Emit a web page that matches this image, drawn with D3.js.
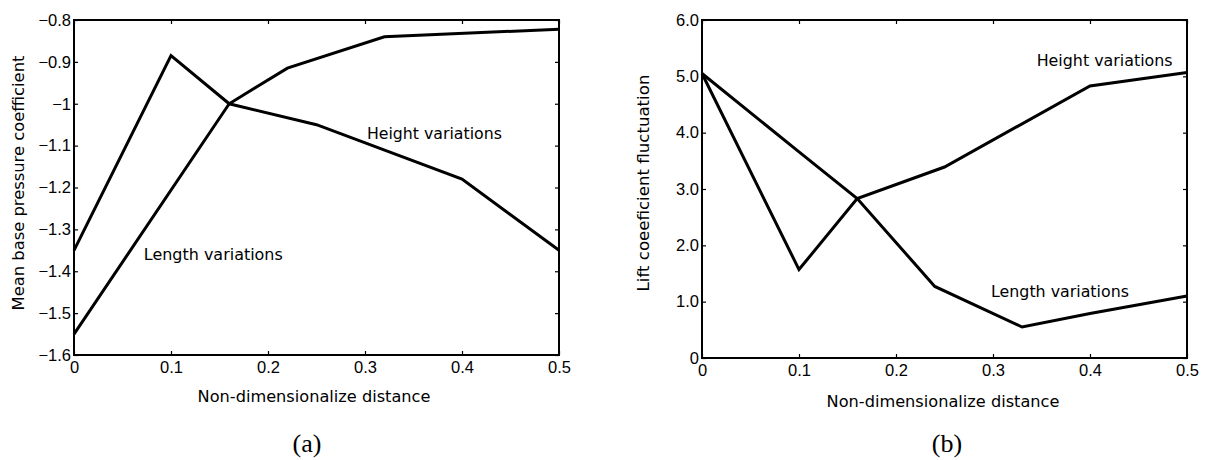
<!DOCTYPE html>
<html>
<head>
<meta charset="utf-8">
<script src="https://cdn.jsdelivr.net/npm/d3@7"></script>
<style>
  body { margin: 0; background: #fff; }
  text { font-family: "DejaVu Sans", sans-serif; fill: #000; }
  .tick text { font-family: "Liberation Sans", Arial, sans-serif; }
  .cap { font-family: "Liberation Serif", "Times New Roman", serif; }
</style>
</head>
<body>
<svg id="chart" width="1208" height="460"></svg>
<script>
// panel (a): mean base pressure coefficient
const xTicks = [0, 0.1, 0.2, 0.3, 0.4, 0.5];
const xTickLabels = ["0", "0.1", "0.2", "0.3", "0.4", "0.5"];

const cpTicks = [-1.6, -1.5, -1.4, -1.3, -1.2, -1.1, -1, -0.9, -0.8];
const cpTickLabels = ["\u22121.6", "\u22121.5", "\u22121.4", "\u22121.3", "\u22121.2", "\u22121.1", "\u22121", "\u22120.9", "\u22120.8"];
const cpHeightX = [0, 0.1, 0.16, 0.25, 0.4, 0.5];
const cpHeightY = [-1.35, -0.885, -1.0, -1.05, -1.18, -1.35];
const cpLengthX = [0, 0.16, 0.22, 0.32, 0.5];
const cpLengthY = [-1.55, -1.0, -0.915, -0.84, -0.822];

// panel (b): lift coefficient fluctuation
const clTicks = [0, 1, 2, 3, 4, 5, 6];
const clTickLabels = ["0", "1.0", "2.0", "3.0", "4.0", "5.0", "6.0"];
const clHeightX = [0, 0.1, 0.16, 0.25, 0.4, 0.5];
const clHeightY = [5.05, 1.57, 2.83, 3.39, 4.83, 5.07];
const clLengthX = [0, 0.1, 0.16, 0.24, 0.33, 0.4, 0.5];
const clLengthY = [5.05, 3.66, 2.83, 1.27, 0.55, 0.79, 1.1];

const svg = d3.select("#chart");

// shrink/grow font so the text spans roughly the width seen in the original
function fit(sel, width, base) {
  sel.attr("font-size", base);
  const w = sel.node().getComputedTextLength();
  if (w > 0) sel.attr("font-size", (base * width / w).toFixed(2));
  return sel;
}

function panel(opts) {
  const x = d3.scaleLinear().domain([0, 0.5]).range([opts.left, opts.right]);
  const y = d3.scaleLinear().domain(opts.yDomain).range([opts.bottom, opts.top]);
  const g = svg.append("g");
  const tickLen = 4;

  // ticks inward on all four sides
  g.append("g")
    .attr("transform", `translate(0,${opts.bottom})`)
    .call(d3.axisBottom(x).tickValues(xTicks).tickSize(-tickLen).tickPadding(6)
      .tickFormat((d, i) => xTickLabels[i]))
    .call(a => a.select(".domain").remove())
    .call(a => a.selectAll("text").attr("font-size", 16.5).attr("dy", "0.72em"));
  g.append("g")
    .attr("transform", `translate(0,${opts.top})`)
    .call(d3.axisTop(x).tickValues(xTicks).tickSize(-tickLen).tickFormat(""))
    .call(a => a.select(".domain").remove());
  g.append("g")
    .attr("transform", `translate(${opts.left},0)`)
    .call(d3.axisLeft(y).tickValues(opts.yTicks).tickSize(-tickLen).tickPadding(3)
      .tickFormat((d, i) => opts.yLabels[i]))
    .call(a => a.select(".domain").remove())
    .call(a => a.selectAll("text").attr("font-size", 16.5));
  g.append("g")
    .attr("transform", `translate(${opts.right},0)`)
    .call(d3.axisRight(y).tickValues(opts.yTicks).tickSize(-tickLen).tickFormat(""))
    .call(a => a.select(".domain").remove());
  g.selectAll(".tick line").attr("stroke", "#000").attr("stroke-width", 1.2);

  g.append("rect")
    .attr("x", opts.left).attr("y", opts.top)
    .attr("width", opts.right - opts.left).attr("height", opts.bottom - opts.top)
    .attr("fill", "none").attr("stroke", "#000").attr("stroke-width", 2);

  const line = d3.line().x(d => x(d[0])).y(d => y(d[1]));
  opts.series.forEach(s => {
    g.append("path")
      .datum(d3.zip(s.x, s.y))
      .attr("d", line)
      .attr("fill", "none")
      .attr("stroke", "#000")
      .attr("stroke-width", 3)
      .attr("stroke-linejoin", "miter");
  });

  opts.notes.forEach(n => {
    const t = g.append("text")
      .attr("x", x(n.at[0])).attr("y", y(n.at[1]))
      .text(n.text);
    fit(t, n.w, 16);
  });

  const xl = g.append("text")
    .attr("x", opts.xLabelX).attr("y", opts.xLabelY)
    .attr("text-anchor", "middle")
    .text("Non-dimensionalize distance");
  fit(xl, 233, 16);

  const yl = g.append("text")
    .attr("transform", `translate(${opts.yLabelX},${opts.yLabelY}) rotate(-90)`)
    .attr("text-anchor", "middle")
    .text(opts.yLabel);
  fit(yl, opts.yLabelW, 16);

  g.append("text")
    .attr("class", "cap")
    .attr("x", opts.capX).attr("y", 452)
    .attr("text-anchor", "middle").attr("font-size", 26)
    .text(opts.caption);
}

panel({
  left: 74, right: 559, top: 20, bottom: 355,
  yDomain: [-1.6, -0.8], yTicks: cpTicks, yLabels: cpTickLabels,
  yLabel: "Mean base pressure coefficient", yLabelX: 24, yLabelY: 183, yLabelW: 255,
  xLabelX: 314, xLabelY: 402, capX: 307, caption: "(a)",
  series: [{ x: cpHeightX, y: cpHeightY }, { x: cpLengthX, y: cpLengthY }],
  notes: [
    { text: "Height variations", at: [0.302, -1.084], w: 135 },
    { text: "Length variations", at: [0.072, -1.373], w: 139 }
  ]
});

panel({
  left: 702, right: 1187, top: 20, bottom: 358,
  yDomain: [0, 6], yTicks: clTicks, yLabels: clTickLabels,
  yLabel: "Lift coeeficient fluctuation", yLabelX: 649, yLabelY: 183, yLabelW: 217,
  xLabelX: 943, xLabelY: 407, capX: 947, caption: "(b)",
  series: [{ x: clHeightX, y: clHeightY }, { x: clLengthX, y: clLengthY }],
  notes: [
    { text: "Height variations", at: [0.345, 5.19], w: 136 },
    { text: "Length variations", at: [0.298, 1.08], w: 138 }
  ]
});
</script>
</body>
</html>
